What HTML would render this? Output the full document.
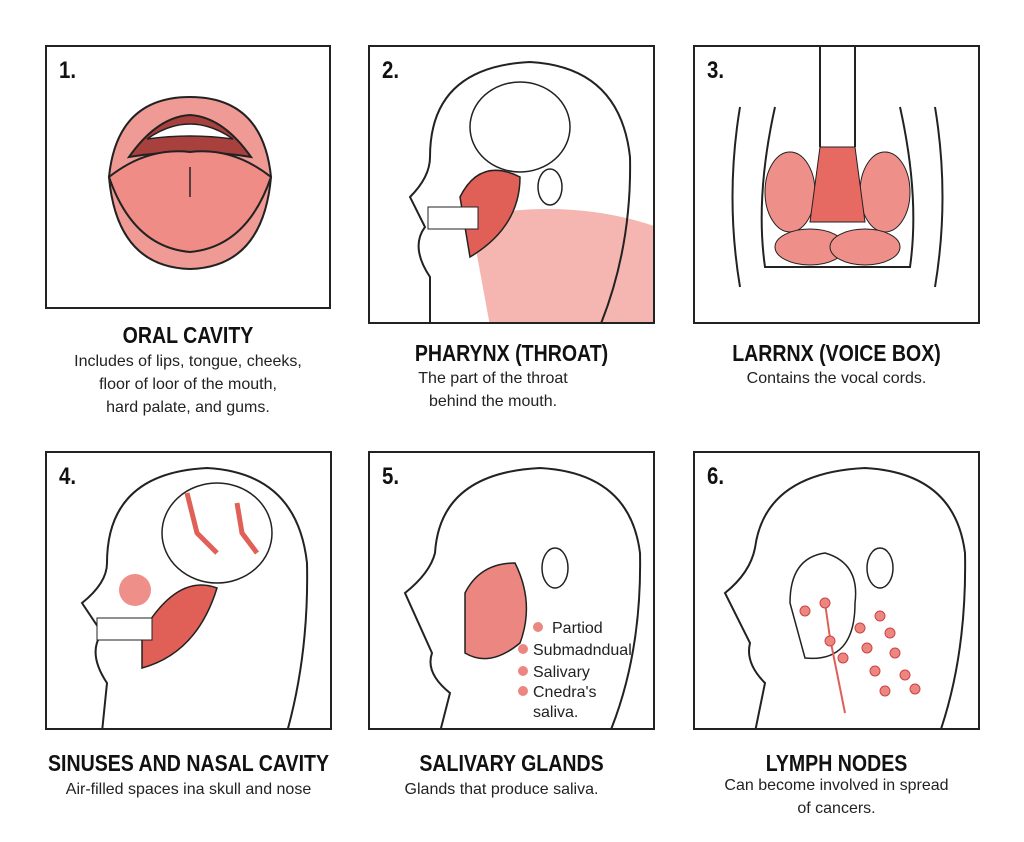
<!DOCTYPE html>
<html><head><meta charset="utf-8"><style>
body{margin:0;background:#fff;width:1024px;height:842px;position:relative;overflow:hidden;font-family:"Liberation Sans",sans-serif;}
.p{position:absolute;border:2px solid #222;background:#fff;box-sizing:border-box;overflow:hidden}
.n{position:absolute;left:12px;top:10px;font:bold 24px "Liberation Sans",sans-serif;color:#111;transform:scaleX(0.85);transform-origin:left}
.t{position:absolute;text-align:center;font:bold 23px "Liberation Sans",sans-serif;color:#111;transform:scaleX(0.85);white-space:nowrap}
.d{position:absolute;text-align:center;font-size:16px;line-height:23px;color:#222;white-space:nowrap}
svg{position:absolute;left:0;top:0}
</style></head><body>
<div class="p" style="left:45px;top:45px;width:286px;height:264px"><div class="n">1.</div>
<svg width="286" height="264"><path d="M62 130 Q70 50 143 50 Q216 50 224 130 Q216 220 143 222 Q70 220 62 130Z" fill="#ef9a94" stroke="#222" stroke-width="2"/>
<path d="M82 110 Q110 70 143 68 Q176 70 204 110 Q143 100 82 110Z" fill="#a8403e" stroke="#222" stroke-width="2"/>
<path d="M100 92 Q143 62 186 92 Q143 86 100 92Z" fill="#fff" stroke="#222" stroke-width="1.5"/>
<path d="M62 130 Q100 100 143 105 Q186 100 224 130 Q200 200 143 205 Q86 200 62 130Z" fill="#f08c86" stroke="#222" stroke-width="2"/>
<path d="M143 120 L143 150" stroke="#222" stroke-width="1.5"/></svg></div>
<div class="t" style="left:0px;width:376px;top:322px">ORAL CAVITY</div>
<div class="d" style="left:30px;width:316px;top:350px">Includes of lips, tongue, cheeks,<br>floor of loor of the mouth,<br>hard palate, and gums.</div>

<div class="p" style="left:368px;top:45px;width:287px;height:279px"><div class="n">2.</div>
<svg width="287" height="279"><path d="M100 170 Q200 150 287 180 L287 279 L120 279Z" fill="#f2a39e" opacity=".8"/>
<path d="M60 279 L60 230 Q40 200 55 180 L40 150 Q60 130 60 110 Q60 20 160 15 Q250 20 260 110 Q262 200 230 279" fill="none" stroke="#222" stroke-width="2"/>
<ellipse cx="150" cy="80" rx="50" ry="45" fill="none" stroke="#222" stroke-width="1.5"/>
<path d="M90 150 Q110 110 150 130 Q150 180 100 210Z" fill="#e06058" stroke="#222" stroke-width="1.5"/>
<rect x="58" y="160" width="50" height="22" fill="#fff" stroke="#222"/>
<ellipse cx="180" cy="140" rx="12" ry="18" fill="#fff" stroke="#222" stroke-width="1.5"/></svg></div>
<div class="t" style="left:323px;width:377px;top:340px">PHARYNX (THROAT)</div>
<div class="d" style="left:368px;width:250px;top:367px">The part of the throat<br>behind the mouth.</div>

<div class="p" style="left:693px;top:45px;width:287px;height:279px"><div class="n">3.</div>
<svg width="287" height="279"><path d="M125 0 L125 100 M160 0 L160 100 M80 60 Q60 150 70 220 L215 220 Q225 150 205 60" fill="none" stroke="#222" stroke-width="2"/>
<path d="M45 60 Q30 150 45 240 M240 60 Q255 150 240 240" fill="none" stroke="#222" stroke-width="2"/>
<ellipse cx="95" cy="145" rx="25" ry="40" fill="#ef8f89" stroke="#222"/><ellipse cx="190" cy="145" rx="25" ry="40" fill="#ef8f89" stroke="#222"/>
<path d="M125 100 L160 100 L170 175 L115 175Z" fill="#e66a62" stroke="#222"/>
<ellipse cx="115" cy="200" rx="35" ry="18" fill="#ef8f89" stroke="#222"/><ellipse cx="170" cy="200" rx="35" ry="18" fill="#ef8f89" stroke="#222"/></svg></div>
<div class="t" style="left:648px;width:377px;top:340px">LARRNX (VOICE BOX)</div>
<div class="d" style="left:693px;width:287px;top:367px">Contains the vocal cords.</div>

<div class="p" style="left:45px;top:451px;width:287px;height:279px"><div class="n">4.</div>
<svg width="287" height="279"><path d="M55 279 L60 230 Q40 200 55 180 L35 150 Q60 130 60 110 Q60 20 160 15 Q250 20 260 110 Q262 200 240 279" fill="none" stroke="#222" stroke-width="2"/>
<ellipse cx="170" cy="80" rx="55" ry="50" fill="none" stroke="#222" stroke-width="1.5"/>
<path d="M140 40 L150 80 L170 100 M190 50 L195 80 L210 100" stroke="#e06058" stroke-width="5" fill="none"/>
<circle cx="88" cy="137" r="16" fill="#ef8f89"/>
<path d="M95 180 Q130 120 170 135 Q150 200 95 215Z" fill="#e06058" stroke="#222" stroke-width="1.5"/>
<rect x="50" y="165" width="55" height="22" fill="#fff" stroke="#222"/></svg></div>
<div class="t" style="left:0px;width:377px;top:750px">SINUSES AND NASAL CAVITY</div>
<div class="d" style="left:40px;width:297px;top:778px">Air-filled spaces ina skull and nose</div>

<div class="p" style="left:368px;top:451px;width:287px;height:279px"><div class="n">5.</div>
<svg width="287" height="279"><path d="M70 279 L80 240 Q55 220 62 200 L35 140 Q60 120 65 100 Q70 20 170 15 Q260 20 270 100 Q272 200 240 279" fill="none" stroke="#222" stroke-width="2"/>
<path d="M95 140 Q110 110 145 110 Q165 150 150 190 Q120 215 95 200Z" fill="#ec8680" stroke="#222" stroke-width="1.5"/>
<ellipse cx="185" cy="115" rx="13" ry="20" fill="#fff" stroke="#222" stroke-width="1.5"/>
<g fill="#ec8680"><circle cx="168" cy="174" r="5"/><circle cx="153" cy="196" r="5"/><circle cx="153" cy="218" r="5"/><circle cx="153" cy="238" r="5"/></g>
<g font-size="16" fill="#222"><text x="182" y="180">Partiod</text><text x="163" y="202">Submadndual</text><text x="163" y="224">Salivary</text><text x="163" y="244">Cnedra's</text><text x="163" y="264">saliva.</text></g></svg></div>
<div class="t" style="left:323px;width:377px;top:750px">SALIVARY GLANDS</div>
<div class="d" style="left:368px;width:267px;top:778px">Glands that produce saliva.</div>

<div class="p" style="left:693px;top:451px;width:287px;height:279px"><div class="n">6.</div>
<svg width="287" height="279"><path d="M60 279 L70 230 Q50 210 55 190 L30 140 Q55 120 60 95 Q70 20 170 15 Q260 20 270 100 Q272 200 245 279" fill="none" stroke="#222" stroke-width="2"/>
<path d="M95 150 Q95 105 130 100 Q165 110 160 150 Q160 210 110 205Z" fill="none" stroke="#222" stroke-width="1.5"/>
<ellipse cx="185" cy="115" rx="13" ry="20" fill="#fff" stroke="#222" stroke-width="1.5"/>
<path d="M130 150 L135 185 L150 260" stroke="#e06058" stroke-width="2" fill="none"/>
<g fill="#ec8680" stroke="#c44" stroke-width="1"><circle cx="110" cy="158" r="5"/><circle cx="130" cy="150" r="5"/><circle cx="135" cy="188" r="5"/><circle cx="148" cy="205" r="5"/><circle cx="165" cy="175" r="5"/><circle cx="172" cy="195" r="5"/><circle cx="185" cy="163" r="5"/><circle cx="195" cy="180" r="5"/><circle cx="180" cy="218" r="5"/><circle cx="200" cy="200" r="5"/><circle cx="210" cy="222" r="5"/><circle cx="220" cy="236" r="5"/><circle cx="190" cy="238" r="5"/></g></svg></div>
<div class="t" style="left:648px;width:377px;top:750px">LYMPH NODES</div>
<div class="d" style="left:693px;width:287px;top:774px">Can become involved in spread<br>of cancers.</div>
</body></html>
